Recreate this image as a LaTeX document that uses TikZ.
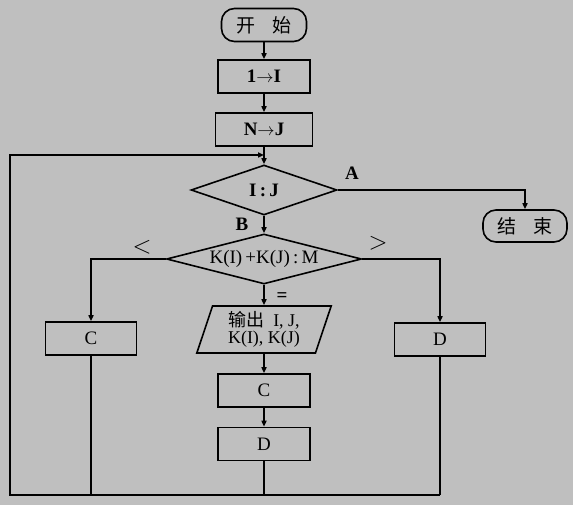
\documentclass[tikz,border=0pt]{standalone}
\usepackage{fontspec}
\setmainfont{Liberation Serif}
\newfontfamily\cjk{Noto Sans CJK SC}
\usepackage{tikz}
\usetikzlibrary{arrows.meta}
\usetikzlibrary{shapes.geometric}

\begin{document}
\begin{tikzpicture}[x=1pt, y=-1pt, line width=1.6pt,
    font=\fontsize{19}{19}\selectfont,
    flow/.style={-{Triangle[length=6pt, width=5pt]}},
    term/.style={draw, rounded corners=13pt, minimum width=85pt, minimum height=33pt, inner sep=0pt,
        font=\fontsize{19}{19}\selectfont\cjk},
    proc/.style={draw, minimum width=92pt, minimum height=33pt, inner sep=0pt},
    test/.style={draw, diamond, aspect=3.9, inner sep=0pt},
    io/.style={draw, trapezium, trapezium left angle=73, trapezium right angle=107,
        trapezium stretches=true, minimum width=135pt, minimum height=47pt, inner sep=0pt, align=center,
        font=\fontsize{18}{17}\selectfont},
    lbl/.style={inner sep=0pt},
    rel/.style={inner sep=0pt, font=\fontsize{24}{24}\selectfont}]
    \fill[black!25] (0, 0) rectangle (573, 505);
    \useasboundingbox (0, 0) rectangle (573, 505);
    % main column
    \node[term] (start) at (264, 25) {开\hspace{0.9em}始};
    \node[proc] (setI) at (264, 76.5) {\bfseries 1$\to$I};
    \node[proc, minimum width=97pt] (setJ) at (264, 129.5) {\bfseries N$\to$J};
    \coordinate (merge) at (264, 155);
    \node[test, minimum width=146pt, minimum height=50pt] (cmpIJ) at (264, 190) {\bfseries I\,:\,J};
    \node[test, minimum width=195pt, minimum height=50pt] (cmpK) at (264, 259) {K(I)\,+K(J)\,:\,M};
    \node[io] (print) at (264, 329.5) {{\cjk 输出}\ \ I,\ J,\\K(I),\ K(J)};
    \node[proc] (midC) at (264, 390.5) {C};
    \node[proc] (midD) at (264, 444) {D};
    % side boxes
    \node[term, minimum width=84pt, minimum height=32pt] (stop) at (525, 226) {结\hspace{0.9em}束};
    \node[proc, minimum width=91pt] (leftC) at (91, 338.5) {C};
    \node[proc, minimum width=91pt] (rightD) at (440, 339.5) {D};
    \coordinate (corner) at (10, 495);
    % labels
    \node[lbl] (labA) at (352, 173) {\bfseries A};
    \node[lbl] (labB) at (242, 224) {\bfseries B};
    \node[rel] (labLt) at (142, 247) {$<$};
    \node[rel] (labGt) at (378, 243) {$>$};
    \node[lbl] (labEq) at (282, 297) {\bfseries =};

    \draw[flow] (start) -- (setI);
    \draw[flow] (setI) -- (setJ);
    \draw (setJ) -- (merge);
    \draw[flow] (merge) -- (cmpIJ);
    \draw[flow] (cmpIJ.east) -| (stop);
    \draw[flow] (cmpIJ) -- (cmpK);
    \draw[flow] (cmpK.west) -| (leftC);
    \draw[flow] (cmpK.east) -| (rightD);
    \draw[flow] (cmpK) -- (print);
    \draw[flow] (print) -- (midC);
    \draw[flow] (midC) -- (midD);
    \draw (leftC) -- (leftC |- corner);
    \draw (midD) -- (midD |- corner);
    \draw (rightD) -- (rightD |- corner);
    \draw[flow] (rightD |- corner) -- (corner) |- (merge);
\end{tikzpicture}
\end{document}
